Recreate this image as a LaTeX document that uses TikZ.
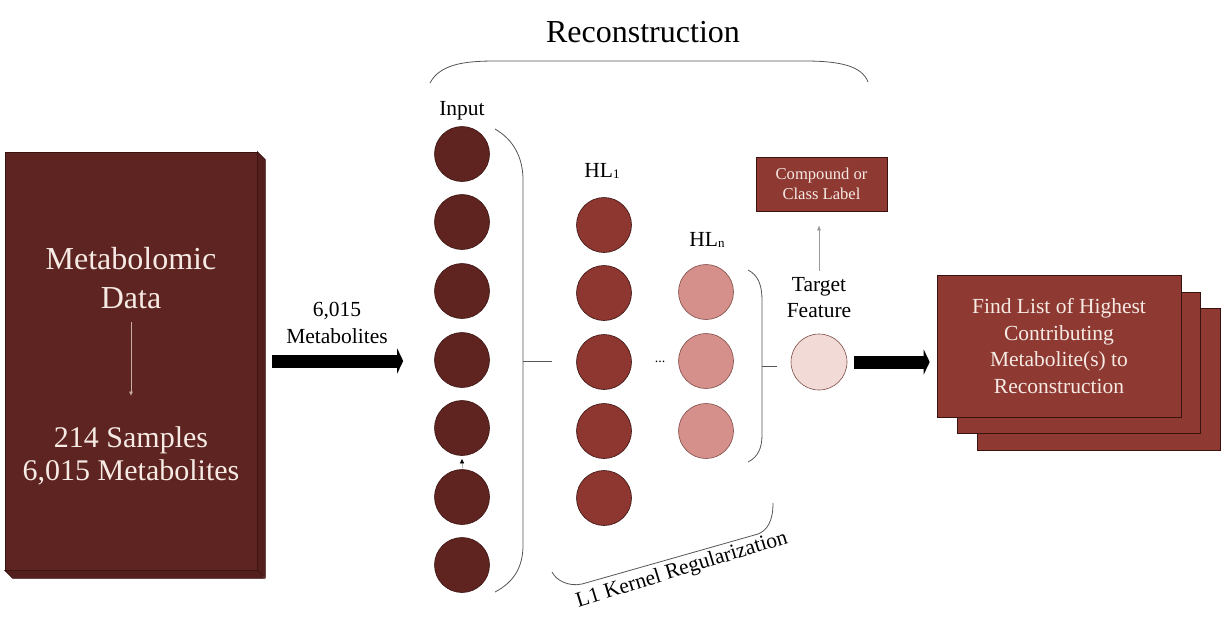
\documentclass[tikz,border=0pt]{standalone}
\usepackage{fontspec}
\setmainfont{Liberation Serif}
\usetikzlibrary{arrows.meta}
\definecolor{databox}{HTML}{5E2421}
\definecolor{databoxside}{HTML}{54201D}
\definecolor{boxedge}{HTML}{3A1311}
\definecolor{inputc}{HTML}{5F2320}
\definecolor{hlonec}{HTML}{8E3630}
\definecolor{hlnc}{HTML}{D5908B}
\definecolor{hlnedge}{HTML}{7E4B47}
\definecolor{arrowlight}{HTML}{CBADA8}
\definecolor{tgtc}{HTML}{F2DAD6}
\definecolor{boxred}{HTML}{8E3A33}
\definecolor{lighttext}{HTML}{F6EAE4}
\definecolor{brk}{HTML}{555555}
\begin{document}
\begin{tikzpicture}[x=1pt,y=-1pt,
  every node/.style={inner sep=0pt},
  incirc/.style={circle,minimum size=55pt,draw=boxedge,line width=0.6pt,fill=inputc},
  hlonecirc/.style={circle,minimum size=55pt,draw=boxedge,line width=0.6pt,fill=hlonec},
  hlncirc/.style={circle,minimum size=55pt,draw=hlnedge,line width=0.6pt,fill=hlnc},
  lbl/.style={font=\fontsize{21.5}{26.5}\selectfont,align=center},
  redbox/.style={draw=boxedge,line width=0.6pt,fill=boxred,text=lighttext,align=center},
  bigarrow/.style={line width=13pt,-{Triangle[length=6pt,width=25pt,line width=0pt]}},
  bracket/.style={draw=brk,line width=0.8pt},
]
\useasboundingbox (0,0) rectangle (1225,633);

% title and top bracket
\node[anchor=base,font=\fontsize{32}{38}\selectfont] (title) at (643,42) {Reconstruction};
\draw[bracket] (430,83) .. controls (440,64) and (465,61) .. (495,61) -- (805,61) .. controls (840,61) and (862,66) .. (868,82);

% left data box
\node[draw=boxedge,fill=databox,line width=0.6pt,minimum width=252pt,minimum height=418pt] (data) at (131,361) {};
\filldraw[fill=databoxside,draw=boxedge,line width=0.6pt] (data.north east) -- ++(8,8) -- ++(0,418) -- (data.south east) -- cycle;
\filldraw[fill=databoxside,draw=boxedge,line width=0.6pt] (data.south west) -- ++(8,8) -- ++(252,0) -- (data.south east) -- cycle;
\node[font=\fontsize{32}{39}\selectfont,align=center,text=lighttext] (metab) at (131,278.5) {Metabolomic\\Data};
\node[font=\fontsize{30}{33}\selectfont,align=center,text=lighttext] (samples) at (131,456) {214 Samples\\6,015 Metabolites};
\draw[draw=arrowlight,line width=0.7pt,-{Triangle[length=4pt,width=3.5pt]},shorten <=13pt,shorten >=31pt] (metab.south) -- (samples.north);

% input layer
\foreach \i/\y in {1/154,2/222,3/291,4/360,5/428,6/497,7/565}
  \node[incirc] (i\i) at (462,\y) {};
\node[lbl,anchor=base] (inlbl) at (462,115) {Input};
\draw[gray!60,line width=0.4pt,-{Latex[black,length=4.5pt,width=4.5pt]},shorten >=3pt,shorten <=1pt] (i6.north) -- (i5.south);
\draw[bracket] (495,129) .. controls (514,140) and (523,158) .. (523,180) -- (523,545) .. controls (523,567) and (514,582) .. (495,592);
\draw[bracket] (523,361) -- (552,361);

% first arrow
\node[lbl] (arrlbl) at (337,323) {6,015\\Metabolites};
\draw[bigarrow,shorten <=15pt,shorten >=31pt] (data.east) -- (data.east -| i4.west);

% hidden layer 1
\foreach \i/\y in {1/225,2/293,3/362,4/431,5/498}
  \node[hlonecirc] (h\i) at (604,\y) {};
\node[lbl,anchor=base] (hlonelbl) at (602,177) {HL{\fontsize{13}{13}\selectfont\raisebox{-1pt}{1}}};

% dots
\node[font=\fontsize{14}{16}\selectfont] (dots) at (660,362) {...};

% hidden layer n
\foreach \i/\y in {1/292,2/361,3/431}
  \node[hlncirc] (n\i) at (706,\y) {};
\node[lbl,anchor=base] (hlnlbl) at (707,246) {HL{\fontsize{13}{13}\selectfont\raisebox{-1pt}{n}}};
\draw[bracket] (748,270) .. controls (758,275) and (762,285) .. (762,300) -- (762,435) .. controls (762,448) and (758,457) .. (748,462);
\draw[bracket] (762,366) -- (777,366);

% L1 bracket
\draw[bracket] (552,572) .. controls (556,580) and (568,587) .. (582,584) -- (758,534) .. controls (768,530) and (773,520) .. (773,503);
\node[lbl,anchor=base,rotate=17] (l1lbl) at (683.5,575) {L1 Kernel Regularization};

% target feature
\node[circle,minimum size=56pt,draw=hlnedge,line width=0.6pt,fill=tgtc] (tgt) at (819,362) {};
\node[lbl] (tgtlbl) at (819,297.5) {Target\\Feature};
\node[redbox,minimum width=131pt,minimum height=54pt,font=\fontsize{16.6}{20}\selectfont] (comp) at (821.5,184) {Compound or\\Class Label};
\draw[gray!80,line width=0.6pt,-{Latex[length=5pt,width=4pt]},shorten <=6pt,shorten >=14pt] (tgtlbl.north) -- (tgtlbl.north |- comp.south);

% right stacked boxes
\node[redbox,minimum width=243pt,minimum height=142pt] (rb3) at (1098.5,379) {};
\node[redbox,minimum width=243pt,minimum height=141pt] (rb2) at (1078.5,362.5) {};
\node[redbox,minimum width=244pt,minimum height=142pt,font=\fontsize{21.5}{26.5}\selectfont] (rb1) at (1059,346) {Find List of Highest\\Contributing\\Metabolite(s) to\\Reconstruction};

% second arrow
\draw[bigarrow,shorten <=7pt,shorten >=7pt] (tgt.east) -- (tgt.east -| rb1.west);
\end{tikzpicture}
\end{document}
